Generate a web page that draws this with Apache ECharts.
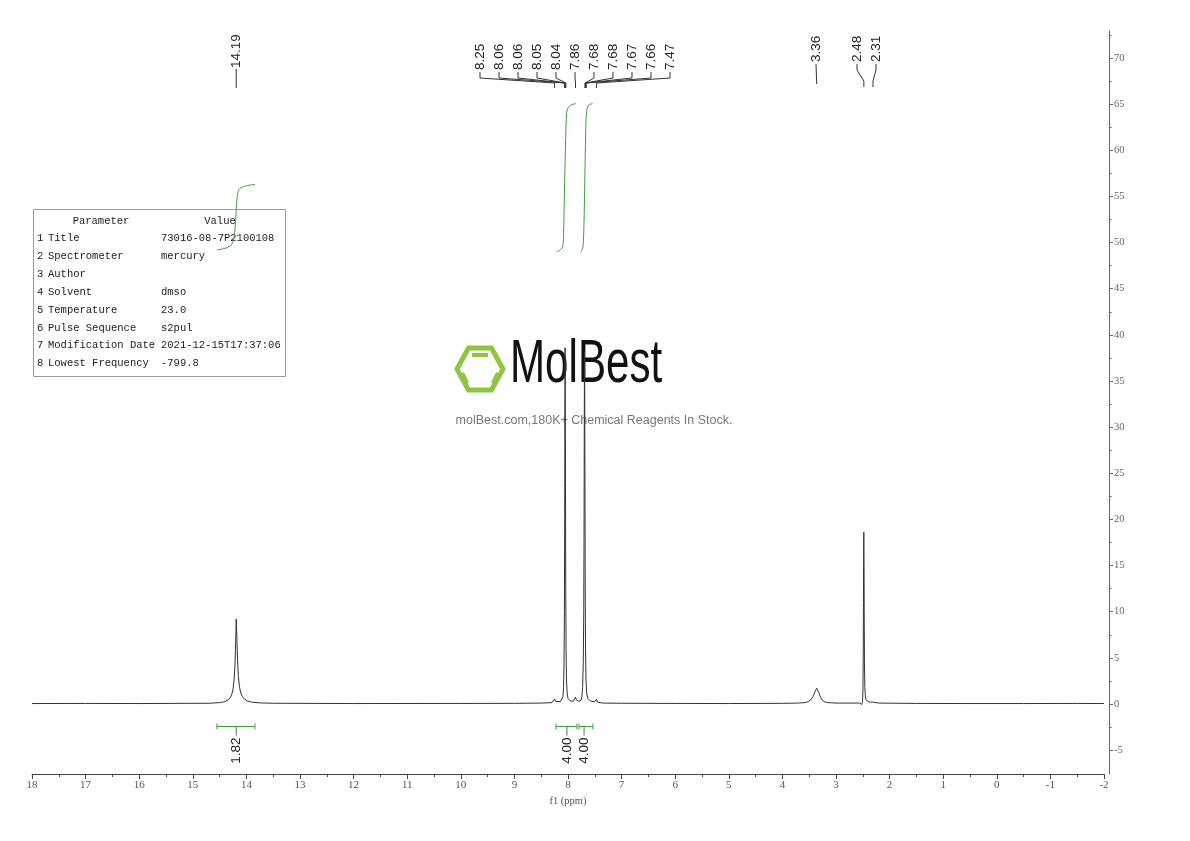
<!DOCTYPE html>
<html><head><meta charset="utf-8">
<script src="https://cdn.jsdelivr.net/npm/echarts@6/dist/echarts.min.js"></script>
<style>html,body{margin:0;padding:0;background:#fff}#c{width:1190px;height:841px}</style>
</head><body><div id="c"></div>
<script>
// ---------------- DATA ----------------
const specPpm = [18.0,17.0,16.0,15.2,14.70,14.50,14.40,14.34,14.30,14.27,14.25,14.23,14.215,14.205,14.195,14.19,14.185,14.175,14.165,14.15,14.13,14.11,14.08,14.04,13.99,13.90,13.75,13.5,12.0,10.0,9.0,8.5,
 8.30,8.27,8.25,8.235,8.20,8.14,8.11,8.095,8.083,8.074,8.067,8.062,8.058,8.055,8.051,8.047,8.042,8.036,8.028,8.016,8.00,7.96,7.90,7.88,7.86,7.845,7.80,7.76,7.74,7.727,7.715,7.706,7.700,7.696,7.692,7.688,7.684,7.679,7.673,7.664,7.652,7.63,7.58,7.50,7.47,7.45,7.35,
 7.0,6.0,5.0,4.0,3.70,3.58,3.52,3.47,3.43,3.40,3.38,3.36,3.34,3.32,3.29,3.26,3.22,3.15,3.00,2.70,2.56,2.52,2.505,2.497,2.492,2.488,2.484,2.481,2.478,2.474,2.469,2.462,2.452,2.44,2.42,2.38,2.32,2.31,2.29,2.2,1.5,0.5,-0.5,-1.5,-2.0];
const specVal = [0.05,0.06,0.05,0.07,0.08,0.15,0.25,0.45,0.7,1.1,1.6,2.6,4.0,5.8,8.0,9.2,8.6,6.6,4.8,3.0,1.9,1.3,0.85,0.55,0.35,0.2,0.12,0.08,0.05,0.06,0.07,0.1,
 0.15,0.3,0.55,0.3,0.2,0.25,0.4,0.8,1.8,4.5,10,20,31,38.6,34,24,13,6,2.6,1.2,0.6,0.35,0.3,0.5,0.75,0.45,0.3,0.4,0.8,1.8,4.5,10,20,30,38.1,34,24,13,6,2.6,1.2,0.6,0.3,0.25,0.5,0.2,0.1,
 0.08,0.06,0.05,0.07,0.1,0.15,0.25,0.45,0.8,1.2,1.5,1.72,1.55,1.2,0.75,0.45,0.25,0.15,0.1,0.1,0.1,-0.05,0.3,1.5,5,11,17,18.6,16,10,4.5,1.8,0.8,0.45,0.3,0.2,0.2,0.25,0.15,0.1,0.06,0.05,0.05,0.06,0.05];

const peakLabels = ['14.19','8.25','8.06','8.06','8.05','8.04','7.86','7.68','7.68','7.67','7.66','7.47','3.36','2.48','2.31'];
const peakPpm    = [14.19, 8.25, 8.06, 8.06, 8.05, 8.04, 7.86, 7.68, 7.68, 7.67, 7.66, 7.47, 3.36, 2.48, 2.31];

const integralFrom  = [14.55, 8.224, 7.795];
const integralTo    = [13.84, 7.832, 7.534];
const integralMark  = [14.19, 8.02, 7.70];
const integralLabel = ['1.82','4.00','4.00'];

const intCurve1 = [[14.55,49.2],[14.45,49.3],[14.36,49.45],[14.29,49.7],[14.25,50.1],[14.22,51.0],[14.20,52.5],[14.185,54.0],[14.17,55.0],[14.15,55.6],[14.10,55.95],[14.00,56.15],[13.84,56.3]];
const intCurve2 = [[8.211,49.0],[8.16,49.15],[8.11,49.4],[8.09,49.9],[8.08,51.5],[8.07,54.5],[8.055,58.5],[8.04,62.0],[8.03,63.7],[8.01,64.5],[7.96,64.85],[7.90,65.0],[7.851,65.05]];
const intCurve3 = [[7.763,49.0],[7.74,49.2],[7.72,49.6],[7.71,50.5],[7.70,52.5],[7.69,55.5],[7.68,59],[7.67,62],[7.66,63.8],[7.64,64.6],[7.60,64.95],[7.54,65.05]];

const xTickMin = -2, xTickMax = 18;
const yTicks = [-5,0,5,10,15,20,25,30,35,40,45,50,55,60,65,70];
const yMinorTicks = [-2.5,2.5,7.5,12.5,17.5,22.5,27.5,32.5,37.5,42.5,47.5,52.5,57.5,62.5,67.5,72.5];

const paramRows = [
 ['1','Title','73016-08-7P2100108'],
 ['2','Spectrometer','mercury'],
 ['3','Author',''],
 ['4','Solvent','dmso'],
 ['5','Temperature','23.0'],
 ['6','Pulse Sequence','s2pul'],
 ['7','Modification Date','2021-12-15T17:37:06'],
 ['8','Lowest Frequency','-799.8']
];

// ---------------- LAYOUT (label slots, page px) ----------------
const labelSlotPpm = [14.19, 9.642, 9.287, 8.933, 8.578, 8.224, 7.869, 7.515, 7.160, 6.806, 6.451, 6.097, 3.373, 2.608, 2.254];
function geomFor(i){
  if (i===0) return {tb:68, a:69, b:69, c:88, d:88};
  if (i<=11) return {tb:70, a:72, b:78, c:83, d:88};
  if (i===12) return {tb:62, a:64, b:64, c:84, d:84};
  return {tb:62, a:64, b:70, c:81, d:87};
}

const yMin = -7.585, yMax = 72.92;
const spec = specPpm.map((p,i)=>[p, specVal[i]]);
const green = '#3f9f3f';

const chart = echarts.init(document.getElementById('c'), null, {renderer:'canvas'});

const tableGraphics = [];
tableGraphics.push({type:'rect', shape:{x:33.5,y:209.5,width:252,height:167}, style:{fill:'#fff', stroke:'#9a9a9a', lineWidth:1}, z:0});
const tFont = '10.5px "Liberation Mono", monospace';
tableGraphics.push({type:'text', x:101, y:221, style:{text:'Parameter', font:tFont, fill:'#222', align:'center', verticalAlign:'middle'}});
tableGraphics.push({type:'text', x:220, y:221, style:{text:'Value', font:tFont, fill:'#222', align:'center', verticalAlign:'middle'}});
paramRows.forEach((r,i)=>{
  const y = 238.5 + i*17.86;
  tableGraphics.push({type:'text', x:37, y:y, style:{text:r[0], font:tFont, fill:'#222', verticalAlign:'middle'}});
  tableGraphics.push({type:'text', x:48, y:y, style:{text:r[1], font:tFont, fill:'#222', verticalAlign:'middle'}});
  tableGraphics.push({type:'text', x:161, y:y, style:{text:r[2], font:tFont, fill:'#222', verticalAlign:'middle'}});
});

const logoGreen = '#8dc63f';
const watermark = [
 {type:'polygon', shape:{points:[[457,369],[468.5,348],[491.5,348],[503,369],[491.5,390],[468.5,390]]}, style:{fill:'none', stroke:logoGreen, lineWidth:5}},
 {type:'line', shape:{x1:472,y1:355,x2:488,y2:355}, style:{stroke:logoGreen, lineWidth:4}},
 {type:'line', shape:{x1:462,y1:373,x2:467,y2:383}, style:{stroke:logoGreen, lineWidth:4}},
 {type:'line', shape:{x1:498,y1:373,x2:493,y2:383}, style:{stroke:logoGreen, lineWidth:4}},
 {type:'text', x:510, y:396, scaleX:0.68, style:{text:'MolBest', font:'62px "Liberation Sans", Arial, sans-serif', fill:'#111', verticalAlign:'bottom'}},
 {type:'text', x:594, y:421, style:{text:'molBest.com,180K+ Chemical Reagents In Stock.', font:'12.5px "Liberation Sans", Arial, sans-serif', fill:'#777', align:'center', verticalAlign:'middle'}}
];

const option = {
  animation:false,
  backgroundColor:'#fff',
  grid:{left:32, right:86, top:31, bottom:67, containLabel:false},
  xAxis:{
    type:'value', inverse:true, min:xTickMin, max:xTickMax, interval:1,
    name:'f1 (ppm)', nameLocation:'middle', nameGap:22,
    nameTextStyle:{fontFamily:'"Liberation Serif", serif', fontSize:10.5, color:'#555'},
    axisLine:{show:true, onZero:false, lineStyle:{color:'#444', width:1}},
    axisTick:{show:true, inside:false, length:5, lineStyle:{color:'#444'}},
    minorTick:{show:true, splitNumber:2, length:3, lineStyle:{color:'#444'}},
    axisLabel:{show:true, margin:6, fontFamily:'"Liberation Serif", serif', fontSize:11, color:'#555'},
    splitLine:{show:false}
  },
  yAxis:[{
    type:'value', position:'right', offset:5, min:yMin, max:yMax,
    axisLine:{show:true, onZero:false, lineStyle:{color:'#666', width:1}},
    axisTick:{show:true, inside:false, length:4, customValues:yTicks, lineStyle:{color:'#666'}},
    axisLabel:{show:true, customValues:yTicks, margin:5, fontFamily:'"Liberation Serif", serif', fontSize:10.5, color:'#666'},
    splitLine:{show:false}
  },{
    type:'value', position:'right', offset:5, min:yMin, max:yMax,
    axisLine:{show:false, onZero:false},
    axisTick:{show:true, inside:false, length:2.5, customValues:yMinorTicks, lineStyle:{color:'#666'}},
    axisLabel:{show:false},
    splitLine:{show:false}
  }],
  graphic:[{type:'group', z:0, children:watermark.concat(tableGraphics)}],
  series:[
    {type:'line', data:spec, showSymbol:false, symbol:'none', lineStyle:{color:'#333', width:1}, z:5},
    {type:'line', data:intCurve1, showSymbol:false, symbol:'none', smooth:0.3, lineStyle:{color:green, width:1}, z:4},
    {type:'line', data:intCurve2, showSymbol:false, symbol:'none', smooth:0.3, lineStyle:{color:green, width:1}, z:4},
    {type:'line', data:intCurve3, showSymbol:false, symbol:'none', smooth:0.3, lineStyle:{color:green, width:1}, z:4},
    {
      type:'custom', clip:false, z:6,
      data: peakPpm.map((p,i)=>[p, labelSlotPpm[i]]),
      renderItem:function(params, api){
        const i = params.dataIndex;
        const g = geomFor(i);
        const tip = api.coord([api.value(0), 0])[0];
        const lab = api.coord([api.value(1), 0])[0];
        return {type:'group', children:[
          {type:'text', x:lab, y:g.tb, rotation:Math.PI/2, style:{text:peakLabels[i], font:'13.5px "Liberation Sans", Arial, sans-serif', fill:'#222', align:'left', verticalAlign:'middle'}},
          {type:'polyline', shape:{points:[[lab,g.a],[lab,g.b],[tip,g.c],[tip,g.d]]}, style:{stroke:'#333', lineWidth:1, fill:'none'}}
        ]};
      }
    },
    {
      type:'custom', clip:false, z:6,
      data: integralFrom.map((f,i)=>[f, integralTo[i], integralMark[i], -2.4]),
      renderItem:function(params, api){
        const i = params.dataIndex;
        const a = api.coord([api.value(0), api.value(3)]);
        const b = api.coord([api.value(1), api.value(3)]);
        const m = api.coord([api.value(2), api.value(3)]);
        const y = Math.round(a[1])+0.5;
        return {type:'group', children:[
          {type:'line', shape:{x1:a[0],y1:y,x2:b[0],y2:y}, style:{stroke:green, lineWidth:1}},
          {type:'line', shape:{x1:a[0],y1:y-3,x2:a[0],y2:y+3}, style:{stroke:green, lineWidth:1}},
          {type:'line', shape:{x1:b[0],y1:y-3,x2:b[0],y2:y+3}, style:{stroke:green, lineWidth:1}},
          {type:'line', shape:{x1:m[0],y1:y,x2:m[0],y2:y+9}, style:{stroke:'#4a7a4a', lineWidth:1}},
          {type:'text', x:m[0], y:y+11, rotation:Math.PI/2, style:{text:integralLabel[i], font:'13.5px "Liberation Sans", Arial, sans-serif', fill:'#222', align:'right', verticalAlign:'middle'}}
        ]};
      }
    }
  ]
};
chart.setOption(option);
</script>
</body></html>
